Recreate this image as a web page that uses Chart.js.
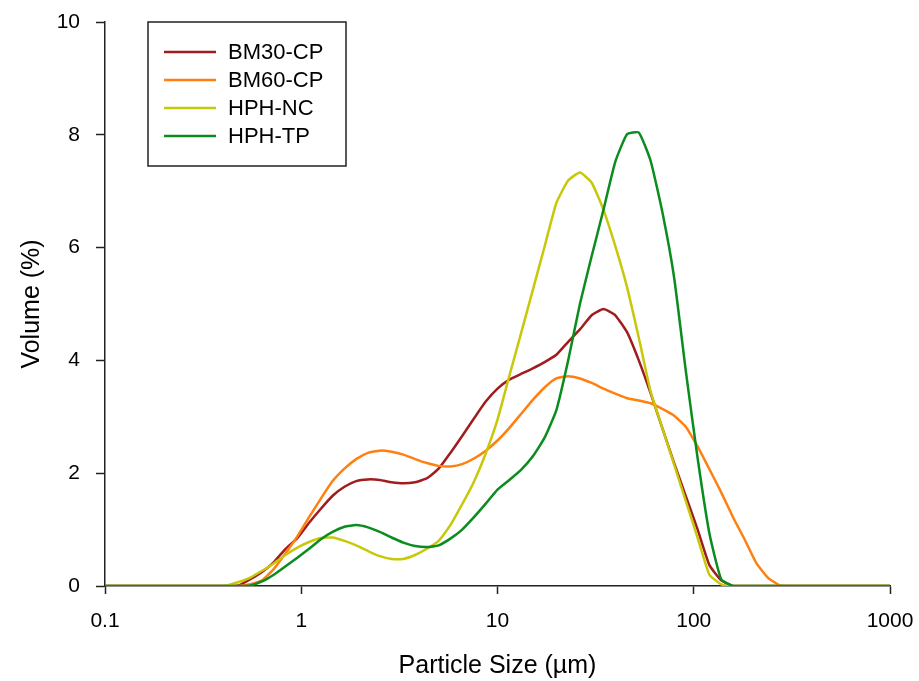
<!DOCTYPE html>
<html>
<head>
<meta charset="utf-8">
<script src="https://cdn.jsdelivr.net/npm/chart.js@4.4.1/dist/chart.umd.min.js"></script>
<style>
  html, body { margin: 0; padding: 0; background: #fff; }
  #wrap { width: 919px; height: 681px; position: relative; }
</style>
</head>
<body>
<div id="wrap"><canvas id="psdChart"></canvas></div>
<script>
// particle size classes (µm)
const sizes = [0.1, 0.363, 0.417, 0.479, 0.550, 0.631, 0.724, 0.832, 0.955, 1.096, 1.259,
  1.445, 1.660, 1.905, 2.188, 2.512, 2.884, 3.311, 3.802, 4.365, 5.012,
  5.754, 6.607, 7.586, 8.710, 10.00, 11.48, 13.18, 15.14, 17.38, 19.95,
  22.91, 26.30, 30.20, 34.67, 39.81, 45.71, 52.48, 60.26, 69.18, 79.43,
  91.20, 104.7, 120.2, 138.0, 158.5, 182.0, 208.9, 239.9, 275.4, 316.2, 1000];

// volume (%) per size class
const bm30cp = [0, 0, 0, 0.01, 0.12, 0.25, 0.42, 0.66, 0.85, 1.12, 1.37,
  1.60, 1.76, 1.86, 1.89, 1.88, 1.84, 1.82, 1.84, 1.91, 2.08,
  2.36, 2.66, 2.97, 3.27, 3.50, 3.66, 3.76, 3.86, 3.97, 4.10,
  4.33, 4.55, 4.80, 4.91, 4.80, 4.50, 4.00, 3.42, 2.80, 2.18,
  1.59, 1.00, 0.37, 0.10, 0, 0, 0, 0, 0, 0, 0];

const bm60cp = [0, 0, 0, 0, 0.03, 0.10, 0.30, 0.58, 0.88, 1.22, 1.55,
  1.86, 2.08, 2.25, 2.36, 2.40, 2.38, 2.33, 2.25, 2.18, 2.13,
  2.12, 2.16, 2.26, 2.40, 2.58, 2.80, 3.05, 3.30, 3.52, 3.68,
  3.72, 3.68, 3.60, 3.50, 3.41, 3.33, 3.29, 3.24, 3.14, 3.02,
  2.82, 2.47, 2.07, 1.66, 1.22, 0.82, 0.40, 0.14, 0.01, 0, 0];

const hphNC = [0, 0, 0.01, 0.07, 0.15, 0.27, 0.40, 0.55, 0.68, 0.78, 0.85,
  0.86, 0.80, 0.72, 0.62, 0.53, 0.48, 0.48, 0.55, 0.66, 0.80,
  1.08, 1.45, 1.85, 2.35, 2.95, 3.72, 4.48, 5.25, 6.02, 6.79,
  7.19, 7.33, 7.15, 6.67, 6.03, 5.30, 4.40, 3.45, 2.80, 2.15,
  1.50, 0.85, 0.20, 0.03, 0, 0, 0, 0, 0, 0, 0];

const hphTP = [0, 0, 0, 0, 0.01, 0.08, 0.20, 0.35, 0.50, 0.66, 0.83,
  0.96, 1.05, 1.08, 1.04, 0.96, 0.86, 0.77, 0.71, 0.69, 0.72,
  0.84, 1.00, 1.22, 1.46, 1.71, 1.88, 2.06, 2.30, 2.63, 3.12,
  4.00, 5.00, 5.85, 6.67, 7.52, 8.01, 8.04, 7.54, 6.63, 5.47,
  3.80, 2.26, 0.93, 0.12, 0, 0, 0, 0, 0, 0, 0];

const seriesNames = ['BM30-CP', 'BM60-CP', 'HPH-NC', 'HPH-TP'];
const seriesValues = [bm30cp, bm60cp, hphNC, hphTP];
const seriesColors = ['#a01c1e', '#ff8010', '#c8c80a', '#0a8c1e'];

const xTicks = [0.1, 1, 10, 100, 1000];
const yTicks = [0, 2, 4, 6, 8, 10];

const fontFamily = '"Liberation Sans", Arial, sans-serif';

// legend box drawn inside the plot area, top left
const boxLegend = {
  id: 'boxLegend',
  afterDraw(chart) {
    const ctx = chart.ctx;
    const area = chart.chartArea;
    const left = area.left + 43;
    const top = area.top;
    const w = 198, h = 144;
    ctx.save();
    ctx.strokeStyle = '#222';
    ctx.lineWidth = 1.5;
    ctx.strokeRect(left, top, w, h);
    ctx.font = '22px ' + fontFamily;
    ctx.textBaseline = 'middle';
    ctx.fillStyle = '#000';
    chart.data.datasets.forEach((ds, i) => {
      const y = top + 30 + i * 28;
      ctx.strokeStyle = ds.borderColor;
      ctx.lineWidth = 2.5;
      ctx.beginPath();
      ctx.moveTo(left + 16, y);
      ctx.lineTo(left + 68, y);
      ctx.stroke();
      ctx.fillText(ds.label, left + 80, y + 1);
    });
    ctx.restore();
  }
};

const ctx = document.getElementById('psdChart');
new Chart(ctx, {
  type: 'line',
  data: {
    datasets: seriesNames.map((name, i) => ({
      label: name,
      data: sizes.map((s, k) => ({ x: s, y: seriesValues[i][k] })),
      borderColor: seriesColors[i],
      backgroundColor: seriesColors[i],
      borderWidth: 2.5,
      pointRadius: 0,
      tension: 0.15,
      fill: false,
      order: 4 - i
    }))
  },
  options: {
    responsive: true,
    maintainAspectRatio: false,
    animation: false,
    layout: { padding: { top: 22, right: 29, left: 0, bottom: 0 } },
    plugins: {
      legend: { display: false },
      tooltip: { enabled: false }
    },
    scales: {
      x: {
        type: 'logarithmic',
        min: 0.1,
        max: 1000,
        afterBuildTicks: (axis) => { axis.ticks = xTicks.map(v => ({ value: v })); },
        afterFit: (axis) => {
          axis.height = 95;
          axis.paddingLeft = 0;
          axis.paddingRight = 0;
        },
        ticks: {
          color: '#000',
          padding: 15,
          maxRotation: 0,
          autoSkip: false,
          font: { family: fontFamily, size: 21 },
          callback: (v) => String(v)
        },
        grid: { drawOnChartArea: false, drawTicks: true, tickLength: 8, tickWidth: 1.5, tickColor: '#222' },
        border: { display: true, color: '#222', width: 1.5 },
        title: {
          display: true,
          text: 'Particle Size (µm)',
          color: '#000',
          font: { family: fontFamily, size: 25 },
          padding: { top: 0, bottom: 0 }
        }
      },
      y: {
        min: 0,
        max: 10,
        afterBuildTicks: (axis) => { axis.ticks = yTicks.map(v => ({ value: v })); },
        afterFit: (axis) => {
          axis.width = 105;
          axis.paddingTop = 0;
          axis.paddingBottom = 0;
        },
        ticks: {
          color: '#000',
          padding: 16,
          font: { family: fontFamily, size: 21 }
        },
        grid: { drawOnChartArea: false, drawTicks: true, tickLength: 9, tickWidth: 1.5, tickColor: '#222' },
        border: { display: true, color: '#222', width: 1.5 },
        title: {
          display: true,
          text: 'Volume (%)',
          color: '#000',
          font: { family: fontFamily, size: 25 },
          padding: { top: 17, bottom: 0 }
        }
      }
    }
  },
  plugins: [boxLegend]
});
</script>
</body>
</html>
